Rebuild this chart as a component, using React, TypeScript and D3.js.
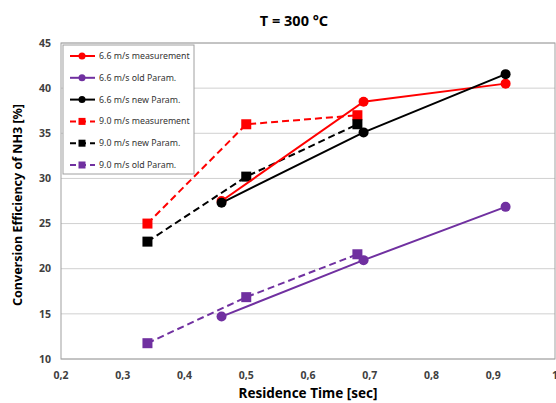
import React from "react";
import * as d3 from "d3";

const xTicks = [0.2, 0.3, 0.4, 0.5, 0.6, 0.7, 0.8, 0.9, 1.0];
const yTicks = [10, 15, 20, 25, 30, 35, 40, 45];

const x66 = [0.46, 0.69, 0.92];
const x90 = [0.34, 0.5, 0.68];

const meas66 = [27.5, 38.5, 40.5];
const old66 = [14.7, 20.95, 26.85];
const new66 = [27.3, 35.1, 41.55];
const meas90 = [25.0, 36.0, 37.0];
const new90 = [23.0, 30.2, 36.0];
const old90 = [11.75, 16.85, 21.6];

const seriesNames = [
  "6.6 m/s measurement",
  "6.6 m/s old Param.",
  "6.6 m/s new Param.",
  "9.0 m/s measurement",
  "9.0 m/s new Param.",
  "9.0 m/s old Param.",
];

const RED = "#ff0000";
const PURPLE = "#7030a0";
const BLACK = "#000000";

type S = { name: string; xs: number[]; ys: number[]; color: string; dashed: boolean; square: boolean };

const series: S[] = [
  { name: seriesNames[0], xs: x66, ys: meas66, color: RED, dashed: false, square: false },
  { name: seriesNames[1], xs: x66, ys: old66, color: PURPLE, dashed: false, square: false },
  { name: seriesNames[2], xs: x66, ys: new66, color: BLACK, dashed: false, square: false },
  { name: seriesNames[3], xs: x90, ys: meas90, color: RED, dashed: true, square: true },
  { name: seriesNames[4], xs: x90, ys: new90, color: BLACK, dashed: true, square: true },
  { name: seriesNames[5], xs: x90, ys: old90, color: PURPLE, dashed: true, square: true },
];

const drawOrder = [3, 4, 5, 0, 1, 2];

const W = 556;
const H = 403;
const left = 61;
const right = 555;
const top = 43;
const bottom = 359;
const font = "'Noto Sans', 'Open Sans', sans-serif";

export default function App() {
  const x = d3.scaleLinear().domain([0.2, 1.0]).range([left, right]);
  const y = d3.scaleLinear().domain([10, 45]).range([bottom, top]);
  const line = d3
    .line<[number, number]>()
    .x((d) => x(d[0]))
    .y((d) => y(d[1]));
  const fmt = (v: number) => (v === 1 ? "1" : d3.format(".1f")(v).replace(".", ","));

  const legX = 63;
  const legY = 45;
  const legW = 131;
  const legH = 129;
  const rowH = 21.8;

  return (
    <svg width={W} height={H} style={{ position: "absolute", left: 0, top: 0 }}>
      <rect x={0} y={0} width={W} height={H} fill="#fff" />
      {yTicks.map((t) => (
        <line key={t} x1={left} x2={right} y1={y(t)} y2={y(t)} stroke="#d0d0d0" strokeWidth={1} />
      ))}
      <rect x={left} y={top} width={right - left} height={bottom - top} fill="none" stroke="#a0a0a0" strokeWidth={1} />

      {yTicks.map((t) => (
        <text key={t} x={51} y={y(t)} dy="0.35em" textAnchor="end" fontFamily={font} fontWeight="bold" fontSize={10.5} fill="#404040">
          {t}
        </text>
      ))}
      {xTicks.map((t) => (
        <text key={t} x={x(t)} y={379} textAnchor="middle" fontFamily={font} fontWeight="bold" fontSize={10.5} fill="#404040">
          {fmt(t)}
        </text>
      ))}

      {drawOrder.map((i) => {
        const s = series[i];
        const pts: [number, number][] = s.xs.map((xv, k) => [xv, s.ys[k]]);
        return (
          <g key={s.name}>
            <path d={line(pts) || ""} fill="none" stroke={s.color} strokeWidth={2} strokeDasharray={s.dashed ? "7,4" : undefined} />
            {pts.map((p, k) =>
              s.square ? (
                <rect key={k} x={x(p[0]) - 5} y={y(p[1]) - 5} width={10} height={10} fill={s.color} />
              ) : (
                <circle key={k} cx={x(p[0])} cy={y(p[1])} r={5} fill={s.color} />
              )
            )}
          </g>
        );
      })}

      <rect x={legX} y={legY} width={legW} height={legH} fill="#fff" stroke="#a0a0a0" strokeWidth={1} />
      {series.map((s, i) => {
        const cy = legY + 11 + i * rowH;
        return (
          <g key={s.name}>
            <line x1={70} x2={95} y1={cy} y2={cy} stroke={s.color} strokeWidth={2} strokeDasharray={s.dashed ? "6,4" : undefined} />
            {s.square ? (
              <rect x={82 - 3.5} y={cy - 3.5} width={7} height={7} fill={s.color} />
            ) : (
              <circle cx={82} cy={cy} r={3.5} fill={s.color} />
            )}
            <text x={99} y={cy} dy="0.35em" fontFamily={font} fontSize={8.8} fill="#333">
              {s.name}
            </text>
          </g>
        );
      })}

      <text x={294} y={26} textAnchor="middle" fontFamily={font} fontWeight="bold" fontSize={14.5} fill="#000">
        T = 300 °C
      </text>
      <text x={308} y={398} textAnchor="middle" fontFamily={font} fontWeight="bold" fontSize={13.5} fill="#000">
        Residence Time [sec]
      </text>
      <text transform={`translate(22,205) rotate(-90)`} textAnchor="middle" fontFamily={font} fontWeight="bold" fontSize={12.5} fill="#000">
        Conversion Efficiency of NH3 [%]
      </text>
    </svg>
  );
}
